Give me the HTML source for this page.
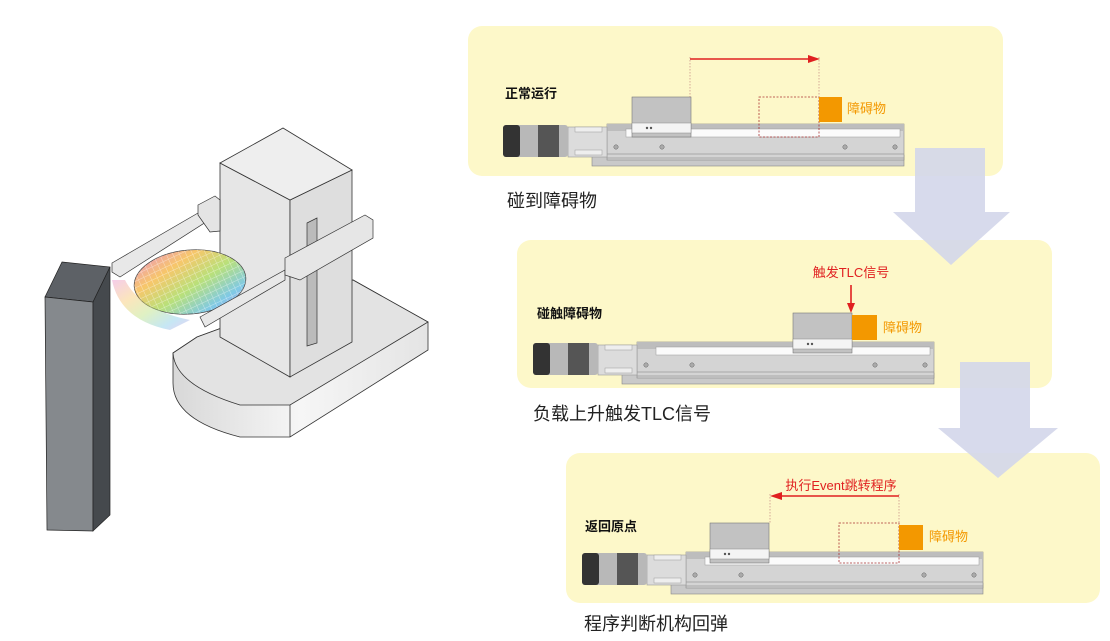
<!DOCTYPE html>
<html><head><meta charset="utf-8"><style>
body{margin:0;background:#fff;}
svg{display:block;font-family:"Liberation Sans","Noto Sans CJK SC",sans-serif;}
</style></head><body>
<svg width="1110" height="641" viewBox="0 0 1110 641" xmlns="http://www.w3.org/2000/svg">
<defs>
<linearGradient id="waf" x1="0" y1="0" x2="1" y2="1">
<stop offset="0" stop-color="#e98fd0"/><stop offset="0.3" stop-color="#f7c66a"/><stop offset="0.55" stop-color="#b9e07a"/><stop offset="0.8" stop-color="#7fc9e6"/><stop offset="1" stop-color="#c89be8"/></linearGradient>
<pattern id="grid" width="6" height="6" patternUnits="userSpaceOnUse" patternTransform="rotate(-20)"><path d="M0 0H6M0 0V6" stroke="#fff" stroke-opacity="0.5" stroke-width="1"/></pattern>
<linearGradient id="base" x1="0" y1="0" x2="1" y2="0"><stop offset="0" stop-color="#d8d8d8"/><stop offset="0.5" stop-color="#f6f6f6"/><stop offset="1" stop-color="#e4e4e4"/></linearGradient>
<g id="rail">
  <rect x="592" y="155" width="312" height="11" fill="#c9c9c9" stroke="#888" stroke-width="0.6"/>
  <rect x="607" y="124" width="297" height="36" fill="#d4d4d4" stroke="#888" stroke-width="0.6"/>
  <rect x="607" y="124" width="297" height="7" fill="#bdbdbd"/>
  <rect x="626" y="129" width="274" height="8" fill="#fbfbfb" stroke="#999" stroke-width="0.5"/>
  <line x1="607" y1="154" x2="904" y2="154" stroke="#999" stroke-width="0.7"/>
  <line x1="607" y1="158" x2="904" y2="158" stroke="#999" stroke-width="0.7"/>
  <circle cx="616" cy="147" r="2.2" fill="#aaa" stroke="#666" stroke-width="0.5"/>
  <circle cx="662" cy="147" r="2.2" fill="#aaa" stroke="#666" stroke-width="0.5"/>
  <circle cx="845" cy="147" r="2.2" fill="#aaa" stroke="#666" stroke-width="0.5"/>
  <circle cx="895" cy="147" r="2.2" fill="#aaa" stroke="#666" stroke-width="0.5"/>
  <rect x="568" y="127" width="39" height="30" fill="#dcdcdc" stroke="#999" stroke-width="0.6"/>
  <rect x="575" y="127" width="27" height="5" fill="#eee" stroke="#999" stroke-width="0.5"/>
  <rect x="575" y="150" width="27" height="5" fill="#eee" stroke="#999" stroke-width="0.5"/>
  <rect x="503" y="125" width="65" height="32" rx="3" fill="#b8b8b8"/>
  <rect x="503" y="125" width="17" height="32" rx="3" fill="#333"/>
  <rect x="538" y="125" width="21" height="32" fill="#555"/>
</g>
<g id="carr">
  <rect x="0" y="0" width="59" height="40" fill="#c2c2c2" stroke="#777" stroke-width="0.6"/>
  <rect x="0" y="26" width="59" height="10" fill="#f4f4f4" stroke="#888" stroke-width="0.5"/>
  <circle cx="15" cy="31" r="1.2" fill="#555"/><circle cx="19" cy="31" r="1.2" fill="#555"/>
</g>
</defs>

<!-- robot -->
<path d="M173 353 L197 337 L353 280 L428 322 L428 350 L290 437 L240 437 Q173 420 173 383 Z" fill="url(#base)" stroke="#333" stroke-width="0.8"/>
<path d="M173 353 Q175 385 240 405 L290 405 L428 322 L353 280 L197 337 Z" fill="#e3e3e3" stroke="#333" stroke-width="0.8"/>
<path d="M290 405 L290 437" stroke="#333" stroke-width="0.8"/>
<polygon points="220,163 290,200 290,377 220,337" fill="#e6e6e6" stroke="#333" stroke-width="0.8"/>
<polygon points="290,200 352,170 352,342 290,377" fill="#dedede" stroke="#333" stroke-width="0.8"/>
<polygon points="220,163 283,128 352,170 290,200" fill="#eeeeee" stroke="#333" stroke-width="0.8"/>
<polygon points="307,223 317,218 317,343 307,346" fill="#bbb" stroke="#333" stroke-width="0.7"/>
<polygon points="112,263 198,213 220,200 220,213 120,277 112,272" fill="#e8e8e8" stroke="#333" stroke-width="0.7"/>
<polygon points="198,205 215,196 220,200 220,231 210,232 198,215" fill="#e4e4e4" stroke="#333" stroke-width="0.7"/>
<ellipse cx="190" cy="282" rx="56" ry="32" transform="rotate(-5 190 282)" fill="url(#waf)" stroke="#444" stroke-width="0.7"/>
<ellipse cx="190" cy="282" rx="56" ry="32" transform="rotate(-5 190 282)" fill="url(#grid)"/>
<path d="M112 280 Q120 320 170 330 L190 320 Q140 310 125 280 Z" fill="url(#waf)" opacity="0.45"/>
<polygon points="200,317 285,270 285,280 205,327" fill="#e8e8e8" stroke="#333" stroke-width="0.7"/>
<polygon points="285,258 365,215 373,220 373,238 300,280 285,275" fill="#e6e6e6" stroke="#333" stroke-width="0.7"/>
<polygon points="62,262 110,267 93,302 45,297" fill="#5d6166" stroke="#222" stroke-width="0.7"/>
<polygon points="45,297 93,302 93,531 47,530" fill="#85898d" stroke="#222" stroke-width="0.7"/>
<polygon points="93,302 110,267 110,515 93,531" fill="#45494d" stroke="#222" stroke-width="0.7"/>

<!-- panels -->
<rect x="468" y="26" width="535" height="150" rx="14" fill="#fdf8c9"/>
<rect x="517" y="240" width="535" height="148" rx="14" fill="#fdf8c9"/>
<rect x="566" y="453" width="534" height="150" rx="14" fill="#fdf8c9"/>

<!-- arrows (on top) -->
<polygon points="915,148 985,148 985,212 1010,212 951,265 893,212 915,212" fill="#d3d6ea" fill-opacity="0.9"/>
<polygon points="960,362 1030,362 1030,428 1058,428 998,478 938,428 960,428" fill="#d3d6ea" fill-opacity="0.9"/>

<!-- panel 1 -->
<use href="#rail"/>
<use href="#carr" x="632" y="97"/>
<rect x="759" y="97" width="60" height="40" fill="none" stroke="#a33" stroke-width="0.8" stroke-dasharray="2,1.5"/>
<rect x="819" y="97" width="23" height="25" fill="#f39800"/>
<text x="847" y="113" font-size="13" fill="#f39800">障碍物</text>
<line x1="690" y1="57" x2="690" y2="97" stroke="#b77" stroke-width="0.6" stroke-dasharray="1.5,1.5"/>
<line x1="819" y1="57" x2="819" y2="97" stroke="#b77" stroke-width="0.6" stroke-dasharray="1.5,1.5"/>
<line x1="690" y1="59" x2="810" y2="59" stroke="#e02020" stroke-width="1.6"/>
<polygon points="820,59 808,55 808,63" fill="#e02020"/>
<text x="505" y="98" font-size="13" font-weight="bold" fill="#111">正常运行</text>
<text x="507" y="207" font-size="18" fill="#222">碰到障碍物</text>

<!-- panel 2 -->
<use href="#rail" transform="translate(30,218)"/>
<use href="#carr" x="793" y="313"/>
<rect x="852" y="315" width="25" height="25" fill="#f39800"/>
<text x="883" y="332" font-size="13" fill="#f39800">障碍物</text>
<line x1="851" y1="285" x2="851" y2="304" stroke="#e02020" stroke-width="1.6"/>
<polygon points="851,313 847,303 855,303" fill="#e02020"/>
<text x="851" y="277" font-size="13" fill="#e02020" text-anchor="middle">触发TLC信号</text>
<text x="537" y="318" font-size="13" font-weight="bold" fill="#111">碰触障碍物</text>
<text x="533" y="420" font-size="18" fill="#222">负载上升触发TLC信号</text>

<!-- panel 3 -->
<use href="#rail" transform="translate(79,428)"/>
<use href="#carr" x="710" y="523"/>
<rect x="839" y="523" width="60" height="40" fill="none" stroke="#a33" stroke-width="0.8" stroke-dasharray="2,1.5"/>
<rect x="899" y="525" width="24" height="25" fill="#f39800"/>
<text x="929" y="541" font-size="13" fill="#f39800">障碍物</text>
<line x1="770" y1="494" x2="770" y2="523" stroke="#b77" stroke-width="0.6" stroke-dasharray="1.5,1.5"/>
<line x1="899" y1="494" x2="899" y2="523" stroke="#b77" stroke-width="0.6" stroke-dasharray="1.5,1.5"/>
<line x1="780" y1="496" x2="899" y2="496" stroke="#e02020" stroke-width="1.6"/>
<polygon points="770,496 782,492 782,500" fill="#e02020"/>
<text x="841" y="490" font-size="13" fill="#e02020" text-anchor="middle">执行Event跳转程序</text>
<text x="585" y="531" font-size="13" font-weight="bold" fill="#111">返回原点</text>
<text x="584" y="630" font-size="18" fill="#222">程序判断机构回弹</text>
</svg>
</body></html>
